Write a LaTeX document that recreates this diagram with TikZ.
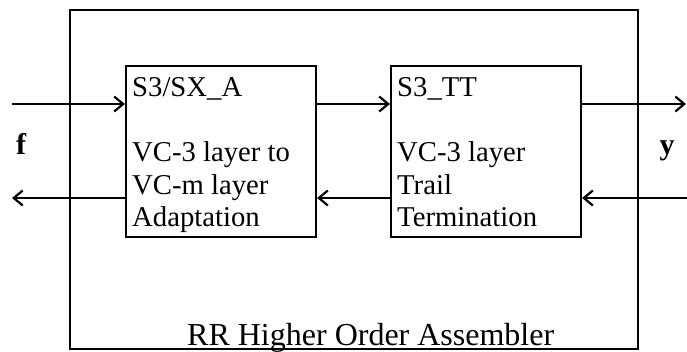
\documentclass[tikz,border=0pt]{standalone}
\usepackage{fontspec}
\setmainfont{Liberation Serif}
\usetikzlibrary{arrows.meta}
\begin{document}
\begin{tikzpicture}[x=1pt,y=-1pt,
  blk/.style={draw, line width=2.2pt, minimum width=190pt, minimum height=171pt, inner sep=0pt},
  txt/.style={inner sep=0pt, anchor=base west, font=\fontsize{28.7}{32.5}\selectfont},
  lbl/.style={inner sep=0pt, anchor=base, font=\fontsize{30}{34}\selectfont\bfseries},
  arr/.style={line width=2.2pt, -{Straight Barb[length=9pt,width=15pt,line width=2.2pt]}}]
\useasboundingbox (0,0) rectangle (687,351);
\node (outer) [draw, line width=2.2pt, minimum width=568pt, minimum height=339pt, inner sep=0pt] at (354,179.5) {};
\node (boxA) [blk] at (221,151.5) {};
\node (boxT) [blk] at (486,151.5) {};
% texts
\node (a1) [txt] at (132,96) {S3/SX\_A};
\node (a2) [txt] at (132,161) {VC-3 layer to};
\node (a3) [txt] at (132,194) {VC-m layer};
\node (a4) [txt] at (132,226) {Adaptation};
\node (t1) [txt] at (397,96) {S3\_TT};
\node (t2) [txt] at (397,161) {VC-3 layer};
\node (t3) [txt] at (397,194) {Trail};
\node (t4) [txt] at (397,226) {Termination};
\node (title) [txt, font=\fontsize{32}{36}\selectfont] at (187,345) {RR Higher Order Assembler};
\node (f) [lbl] at (21,154) {f};
\node (y) [lbl] at (667,154) {y};
% connectors
\coordinate (fin) at (12,104);
\coordinate (fout) at (12,198);
\coordinate (yout) at (686,104);
\coordinate (yin) at (687,198);
\draw[arr] (fin) -- (fin -| boxA.west);
\draw[arr] (boxA.east |- fin) -- (fin -| boxT.west);
\draw[arr] (boxT.east |- fin) -- (yout);
\draw[arr] (yin) -- (yin -| boxT.east);
\draw[arr] (boxT.west |- yin) -- (yin -| boxA.east);
\draw[arr] (boxA.west |- yin) -- (fout);
\end{tikzpicture}
\end{document}
